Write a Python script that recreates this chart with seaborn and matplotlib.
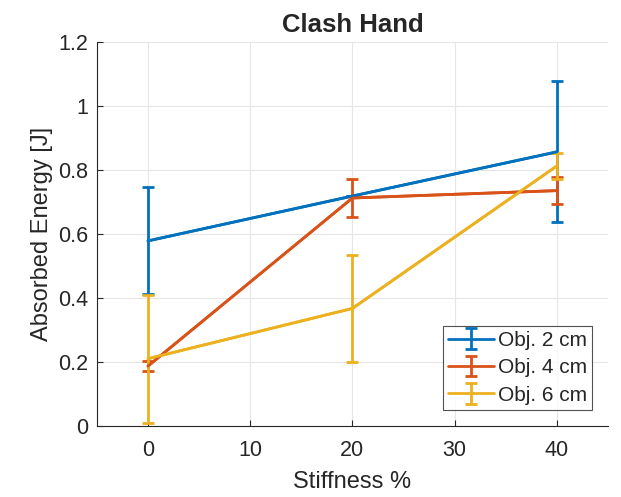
import numpy as np
import pandas as pd
import matplotlib
matplotlib.use("Agg")
import matplotlib.pyplot as plt
import seaborn as sns

stiffness = [0, 20, 40]
labels = ["Obj. 2 cm", "Obj. 4 cm", "Obj. 6 cm"]
mean_2cm = [0.578, 0.718, 0.856]
err_2cm = [0.167, 0.0, 0.22]
mean_4cm = [0.187, 0.712, 0.735]
err_4cm = [0.016, 0.06, 0.043]
mean_6cm = [0.210, 0.367, 0.812]
err_6cm = [0.200, 0.166, 0.042]
colors = ["#0072BD", "#D95319", "#EDB120"]

sns.set_style("white")
plt.rcParams['font.family'] = ['Liberation Sans', 'DejaVu Sans']

fig = plt.figure(figsize=(6.21, 4.97), dpi=100)
ax = fig.add_axes([0.156, 0.143, 0.823, 0.773])

means = [mean_2cm, mean_4cm, mean_6cm]
errs = [err_2cm, err_4cm, err_6cm]
rows = []
for lab, m in zip(labels, means):
    for x, v in zip(stiffness, m):
        rows.append({"Stiffness": x, "Energy": v, "Object": lab})
df = pd.DataFrame(rows)

sns.lineplot(data=df, x="Stiffness", y="Energy", hue="Object", palette=colors,
             linewidth=2, legend=False, ax=ax, errorbar=None)

handles = []
for lab, m, e, c in zip(labels, means, errs, colors):
    h = ax.errorbar(stiffness, m, yerr=e, fmt='-', color=c, lw=2, elinewidth=2,
                    capsize=4, capthick=2, label=lab)
    handles.append(h)

ax.set_xlim(-5, 45)
ax.set_ylim(0, 1.2)
ax.set_xticks([0, 10, 20, 30, 40])
ax.set_yticks([0, 0.2, 0.4, 0.6, 0.8, 1.0, 1.2])
ax.set_yticklabels(["0", "0.2", "0.4", "0.6", "0.8", "1", "1.2"])
ax.grid(True, color="#e6e6e6", linewidth=0.8)
ax.set_axisbelow(True)
ax.tick_params(axis='both', direction='in', length=4, labelsize=15.5, colors='#262626',
               top=False, right=False, bottom=True, left=True)
ax.tick_params(axis='x', pad=10)
ax.tick_params(axis='y', pad=6)
for s in ['left', 'bottom']:
    ax.spines[s].set_color('#262626')
    ax.spines[s].set_linewidth(0.8)
for s in ['top', 'right']:
    ax.spines[s].set_visible(False)

ax.set_xlabel("Stiffness %", fontsize=17, color='#262626', labelpad=7)
ax.set_ylabel("Absorbed Energy [J]", fontsize=17, color='#262626', labelpad=4)
ax.set_title("Clash Hand", fontsize=18.5, fontweight='bold', pad=7)

leg = ax.legend(handles=handles, labels=labels, loc='lower right',
                bbox_to_anchor=(0.969, 0.042), fontsize=15, frameon=True,
                fancybox=False, edgecolor='#262626', handlelength=2.2,
                handletextpad=0.2, borderpad=0.25, labelspacing=0.4,
                borderaxespad=0.0)
leg.get_frame().set_linewidth(0.8)

fig.savefig("out.png", dpi=100)
